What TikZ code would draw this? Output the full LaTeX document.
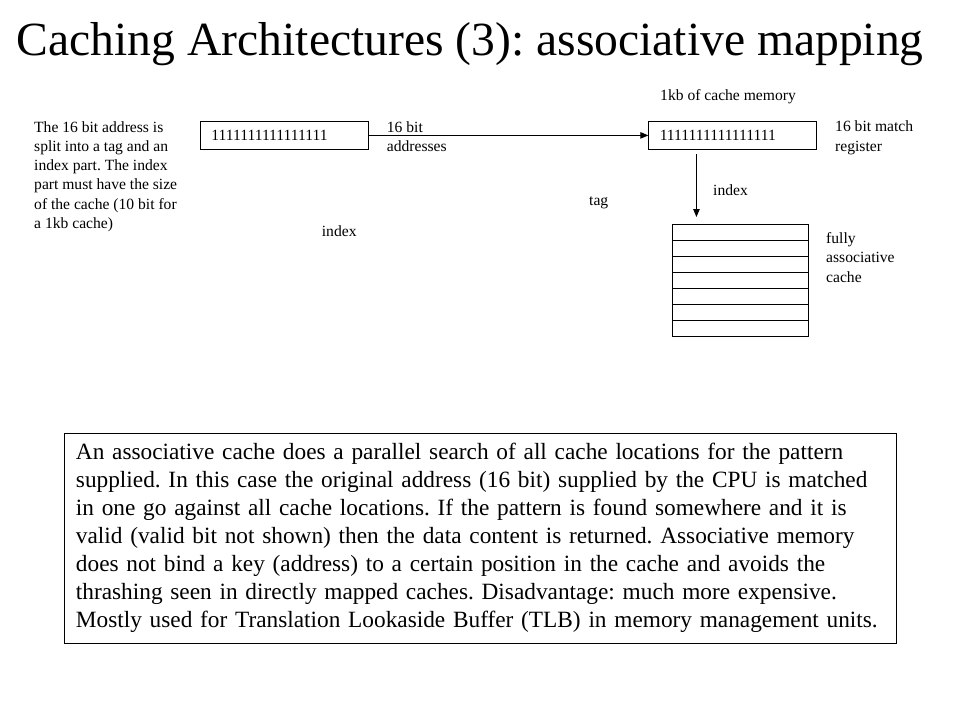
\documentclass[tikz,border=0pt]{standalone}
\usepackage{fontspec}
\setmainfont{Liberation Serif}
\usetikzlibrary{arrows.meta,positioning,calc}

\begin{document}
\frenchspacing
\begin{tikzpicture}[
    x=1pt, y=-1pt,
    >={Triangle[length=8pt,width=6.5pt]},
    title/.style={
        anchor=base west,
        inner sep=0pt,
        font=\fontsize{47.6}{54}\selectfont
    },
    regbox/.style={
        draw,
        line width=0.9pt,
        anchor=north west,
        minimum height=28.5pt,
        text width=146pt,
        inner xsep=11pt,
        inner ysep=0pt,
        align=left,
        font=\fontsize{15.6}{19.3}\selectfont
    },
    note/.style={
        anchor=base west,
        inner sep=0pt,
        align=left,
        font=\fontsize{15.6}{19.3}\selectfont
    },
    cachebox/.style={
        draw,
        line width=0.9pt,
        anchor=north west,
        minimum width=136pt,
        minimum height=112pt,
        inner sep=0pt
    },
    conn/.style={
        ->,
        line width=0.9pt
    },
    desc/.style={
        draw,
        line width=0.9pt,
        anchor=north west,
        text width=808.5pt,
        inner xsep=12pt,
        minimum height=210pt,
        align=left,
        font=\fontsize{23.3}{28}\selectfont
    }
]

\useasboundingbox (0,0) rectangle (960,720);

\node[title] (title) at (16.7,55) {Caching Architectures (3): associative mapping};

\node[regbox] (addr) at (200,120.7) {1111111111111111};
\node[regbox] (match) at (648.3,120.7) {1111111111111111};

% multi-line notes sit on the baseline of their last line
\node[note] (split) at (34,228.5) {The 16 bit address is\\split into a tag and an\\index part. The index\\part must have the size\\of the cache (10 bit for\\a 1kb cache)};
\node[note] (bits) at (386.7,151.3) {16 bit\\addresses};
\node[note] (size) at (660,100) {1kb of cache memory};
\node[note] (matchlbl) at (835,151) {16 bit match\\register};
\node[note] (idxright) at (713,195) {index};
\node[note] (tag) at (589,205) {tag};
\node[note] (idxleft) at (321.7,236.7) {index};
\node[note] (fully) at (826,282) {fully\\associative\\cache};

\node[cachebox] (cache) at (672,224) {};
\foreach \i in {1,...,6}
    \draw[line width=0.9pt] ($(cache.north west)!\i/7!(cache.south west)$) -- ($(cache.north east)!\i/7!(cache.south east)$);

\draw[conn] (addr.east) -- (match.west);
\draw[conn] ([xshift=-36.3pt,yshift=-4pt]match.south) -- ([xshift=-44pt,yshift=7pt]cache.north);

\node[desc] (desc) at (63.5,432.5) {An associative cache does a parallel search of all cache locations for the pattern\\supplied. In this case the original address (16 bit) supplied by the CPU is matched\\in one go against all cache locations. If the pattern is found somewhere and it is\\valid (valid bit not shown) then the data content is returned. Associative memory\\does not bind a key (address) to a certain position in the cache and avoids the\\thrashing seen in directly mapped caches. Disadvantage: much more expensive.\\Mostly used for Translation Lookaside Buffer (TLB) in memory management units.};

\end{tikzpicture}
\end{document}
